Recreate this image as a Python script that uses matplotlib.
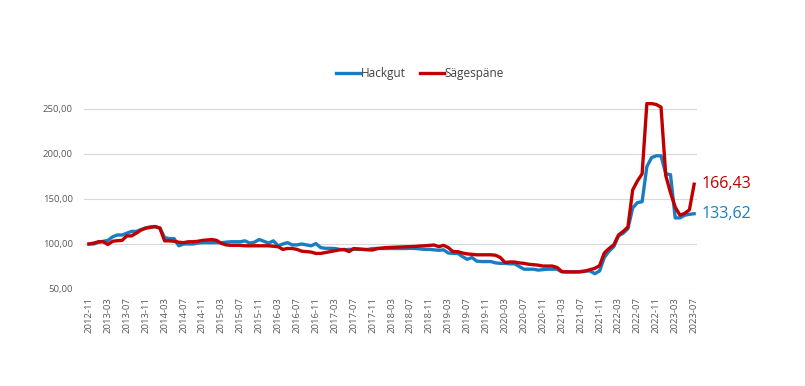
import matplotlib
matplotlib.use("Agg")
import matplotlib.pyplot as plt
import numpy as np

# Monthly periods 2012-11 .. 2023-07
start_year, start_month = 2012, 11
n_months = 129
periods = []
y, m = start_year, start_month
for _ in range(n_months):
    periods.append(f"{y}-{m:02d}")
    m += 1
    if m > 12:
        m = 1
        y += 1

hackgut = [
    100, 100, 102, 103, 104, 108, 110, 110, 112, 114,
    114, 116, 118, 119, 119, 118, 107, 106, 106, 98,
    100, 100, 100, 101, 101.5, 101.5, 101.5, 101.5, 101.5, 102,
    102.5, 102.5, 102.5, 103.5, 101, 102, 105, 103, 101, 103.5,
    98, 100, 101.5, 99, 99, 100, 99, 98, 100.5, 96,
    95.2, 95.2, 95, 94, 93.5, 94, 94, 94, 94, 94,
    95, 95, 95, 95, 95, 95, 95, 95, 95.2, 95,
    94.5, 94, 94, 93.5, 93, 93.5, 90, 89.6, 89.6, 86,
    83, 85, 81, 80.5, 80.5, 80.5, 79, 78.5, 78.5, 78,
    78, 75, 72, 72, 72, 71, 71.5, 72, 72, 72,
    69, 69, 69, 69, 69.5, 70, 70, 67, 70, 85,
    92, 97, 109, 112, 117, 140, 146, 147, 186, 196,
    198, 198, 178, 177, 129, 129, 132, 133, 133.62,
]

saegespaene = [
    100, 101, 102.5, 102.5, 99.5, 103, 103.7, 104, 109, 109,
    112, 115.5, 117.5, 118.5, 119.5, 117.5, 103.5, 103.5, 103, 102,
    101.5, 102.5, 102.5, 103, 104, 104.5, 105, 104, 100.7, 99,
    98.5, 98.5, 98.5, 98, 98, 98, 98, 98, 98, 97.5,
    97, 94, 95, 95, 94, 92, 91.5, 91, 89.5, 89.5,
    90.5, 91.5, 92.5, 93.5, 94, 91.5, 95, 94.5, 94, 93.5,
    93.3, 95, 95.5, 96, 96.3, 96.5, 96.7, 97, 97, 97.3,
    97.8, 98, 98.5, 98.9, 97, 98.5, 96, 91.5, 91.5, 90,
    89, 88.5, 88, 88, 88, 88, 87.5, 85, 79.5, 80,
    80, 79, 78.5, 77.5, 77, 76.5, 75.5, 75.5, 75.5, 74,
    69.5, 69, 69, 69, 69, 70, 71.5, 73, 76, 90,
    95, 99, 110, 114, 119, 160, 170, 178, 256, 256,
    255, 252, 176, 157, 141, 132, 134, 138, 166.43,
]

assert len(hackgut) == n_months and len(saegespaene) == n_months

series_names = ["Hackgut", "Sägespäne"]
colors = ["#1a7cc1", "#c00000"]
y_ticks = [50, 100, 150, 200, 250]

plt.rcParams['font.family'] = ['Open Sans', 'DejaVu Sans']

fig = plt.figure(figsize=(8.05, 3.86), dpi=100)
ax = fig.add_axes([0.1043, 0.2513, 0.7615, 0.4943])

x = np.arange(n_months)
ax.plot(x, hackgut, color=colors[0], lw=2.4, label=series_names[0],
        solid_joinstyle='round', clip_on=False, zorder=3)
ax.plot(x, saegespaene, color=colors[1], lw=2.4, label=series_names[1],
        solid_joinstyle='round', clip_on=False, zorder=4)

ax.set_xlim(-1.06, 128.6)
ax.set_ylim(50, 262)
ax.set_yticks(y_ticks)
ax.set_yticklabels([f"{v:.2f}".replace(".", ",") for v in y_ticks])
ax.set_xticks(x[::4])
ax.set_xticklabels(periods[::4], rotation=90)

for s in ax.spines.values():
    s.set_visible(False)
ax.grid(axis='y', color='#d9d9d9', lw=0.8)
ax.set_axisbelow(True)
ax.tick_params(axis='both', length=0, colors='#595959', labelsize=6.8)
ax.tick_params(axis='y', pad=8)
ax.tick_params(axis='x', pad=6)

# end labels
ax.annotate(f"{saegespaene[-1]:.2f}".replace(".", ","), xy=(x[-1], saegespaene[-1]),
            xytext=(5, 0), textcoords='offset points', va='center', ha='left',
            color=colors[1], fontsize=11.5, annotation_clip=False)
ax.annotate(f"{hackgut[-1]:.2f}".replace(".", ","), xy=(x[-1], hackgut[-1]),
            xytext=(5, 0), textcoords='offset points', va='center', ha='left',
            color=colors[0], fontsize=11.5, annotation_clip=False)

leg = fig.legend(loc='center', bbox_to_anchor=(0.522, 0.81), ncol=2, frameon=False,
                 fontsize=8.5, handlelength=2.0, handletextpad=0.1, columnspacing=1.2,
                 labelcolor='#404040')

fig.savefig("out.png", dpi=100)
